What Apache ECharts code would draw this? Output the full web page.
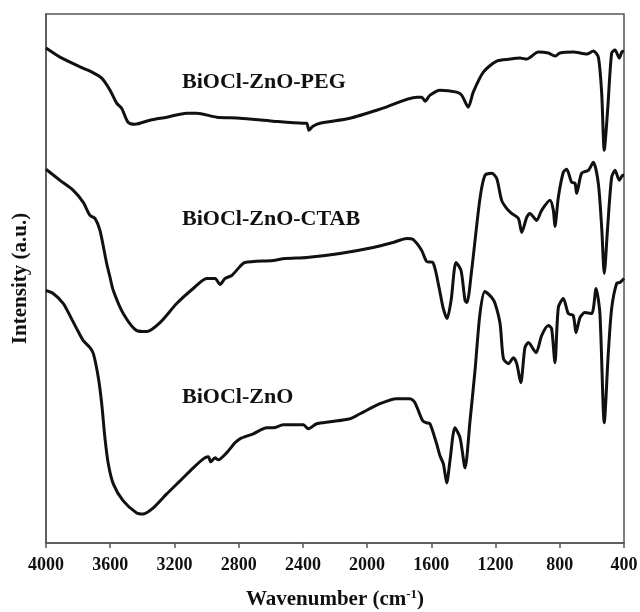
<!DOCTYPE html>
<html>
<head>
<meta charset="utf-8">
<title>FTIR spectra</title>
<script src="https://cdn.jsdelivr.net/npm/echarts@6/dist/echarts.min.js"></script>
<style>
  html, body { margin: 0; padding: 0; background: #fff; }
  #chart { width: 640px; height: 612px; }
</style>
</head>
<body>
<div id="chart"></div>
<script>
var xTicks = [4000, 3600, 3200, 2800, 2400, 2000, 1600, 1200, 800, 400];

// BiOCl-ZnO-PEG (top curve)
var pegWn = [4000, 3913, 3770, 3726, 3653, 3601, 3560, 3529, 3489, 3446, 3352, 3248, 3124, 3061, 2937, 2792, 2586, 2399, 2376, 2362, 2337, 2293, 2107, 1901, 1691, 1660, 1639, 1608, 1546, 1442, 1411, 1370, 1339, 1276, 1193, 1110, 1048, 1006, 934, 871, 830, 799, 716, 632, 591, 560, 539, 523, 502, 477, 456, 429, 414, 400];
var pegVal = [494, 485, 474, 471, 464, 452, 439, 434, 420, 418, 422, 425, 429, 429, 425, 424, 421, 419, 419, 412, 416, 419, 424, 434, 445, 445, 441, 447, 452, 450, 447, 435, 450, 470, 481, 483, 484, 483, 490, 489, 486, 489, 490, 488, 491, 485, 449, 392, 432, 489, 492, 484, 490, 491];

// BiOCl-ZnO-CTAB (middle curve)
var ctabWn = [4000, 3913, 3830, 3768, 3726, 3695, 3664, 3622, 3601, 3581, 3519, 3435, 3373, 3290, 3186, 3083, 2999, 2947, 2916, 2885, 2843, 2792, 2761, 2586, 2511, 2376, 2169, 1963, 1839, 1753, 1714, 1660, 1629, 1590, 1552, 1527, 1502, 1477, 1446, 1415, 1390, 1378, 1349, 1297, 1266, 1224, 1193, 1162, 1131, 1100, 1058, 1037, 1006, 986, 944, 913, 861, 840, 830, 809, 778, 757, 726, 705, 695, 664, 622, 591, 560, 539, 523, 502, 477, 456, 429, 408, 400];
var ctabVal = [373, 362, 352, 340, 327, 324, 312, 279, 265, 252, 229, 212, 211, 220, 239, 254, 264, 264, 258, 264, 267, 276, 280, 282, 284, 285, 289, 295, 300, 304, 303, 292, 281, 280, 255, 235, 224, 242, 280, 272, 242, 240, 272, 344, 367, 369, 364, 342, 334, 329, 324, 310, 325, 329, 322, 332, 342, 332, 316, 345, 370, 373, 360, 359, 349, 369, 372, 380, 359, 315, 269, 315, 365, 372, 362, 367, 367];

// BiOCl-ZnO (bottom curve)
var znoWn = [4000, 3955, 3892, 3851, 3809, 3768, 3726, 3705, 3674, 3653, 3633, 3612, 3581, 3519, 3435, 3394, 3332, 3248, 3165, 3083, 3020, 2989, 2974, 2947, 2927, 2875, 2823, 2792, 2709, 2625, 2584, 2522, 2397, 2366, 2314, 2231, 2107, 2044, 1920, 1816, 1733, 1702, 1654, 1629, 1608, 1567, 1546, 1525, 1504, 1484, 1453, 1421, 1390, 1359, 1328, 1297, 1266, 1224, 1203, 1172, 1151, 1120, 1089, 1068, 1043, 1017, 996, 948, 913, 871, 851, 830, 809, 778, 747, 716, 699, 674, 643, 601, 574, 550, 523, 498, 477, 446, 425, 400];
var znoVal = [252, 249, 239, 227, 214, 202, 195, 189, 165, 139, 105, 79, 59, 42, 30, 29, 35, 49, 62, 75, 84, 86, 81, 85, 83, 90, 100, 104, 109, 115, 115, 118, 118, 114, 119, 121, 124, 129, 139, 144, 144, 140, 122, 120, 119, 99, 87, 79, 60, 82, 115, 105, 75, 122, 172, 229, 251, 245, 239, 219, 184, 179, 185, 179, 160, 195, 200, 190, 207, 217, 214, 180, 235, 244, 229, 227, 210, 225, 230, 229, 254, 229, 120, 189, 234, 259, 260, 264];

var seriesNames = ['BiOCl-ZnO-PEG', 'BiOCl-ZnO-CTAB', 'BiOCl-ZnO'];

function pairs(wn, val) {
  return wn.map(function (w, i) { return [w, val[i]]; });
}

var serif = '"Liberation Serif", "Times New Roman", serif';

var myChart = echarts.init(document.getElementById('chart'), null, { renderer: 'canvas' });

function lineSeries(name, data) {
  return {
    name: name,
    type: 'line',
    data: data,
    showSymbol: false,
    smooth: 0.25,
    lineStyle: { color: '#111', width: 3 },
    animation: false
  };
}

var option = {
  backgroundColor: '#fff',
  grid: {
    left: 46,
    right: 16,
    top: 14,
    bottom: 69,
    outerBoundsMode: 'none',
    containLabel: false,
    show: true,
    borderColor: '#555',
    borderWidth: 1.5
  },
  xAxis: {
    type: 'value',
    inverse: true,
    min: 400,
    max: 4000,
    interval: 400,
    name: 'Wavenumber (cm{sup|-1})',
    nameLocation: 'middle',
    nameGap: 45,
    nameTextStyle: {
      fontFamily: serif,
      fontWeight: 'bold',
      fontSize: 21,
      color: '#111',
      rich: {
        sup: { fontFamily: serif, fontWeight: 'bold', fontSize: 13, verticalAlign: 'top', padding: [0, 0, 10, 0], color: '#111' }
      }
    },
    axisLine: { show: true, lineStyle: { color: '#555', width: 1.5 } },
    axisTick: { show: true, length: 5, lineStyle: { color: '#555', width: 1.5 } },
    axisLabel: {
      fontFamily: serif,
      fontWeight: 'bold',
      fontSize: 18,
      color: '#111',
      margin: 13,
      showMinLabel: true,
      showMaxLabel: true,
      formatter: function (v) { return xTicks.indexOf(v) >= 0 ? String(v) : ''; }
    },
    splitLine: { show: false }
  },
  yAxis: {
    type: 'value',
    min: 0,
    max: 528,
    name: 'Intensity (a.u.)',
    nameLocation: 'middle',
    nameGap: 15,
    nameTextStyle: { fontFamily: serif, fontWeight: 'bold', fontSize: 21, color: '#111' },
    axisLine: { show: true, lineStyle: { color: '#555', width: 1.5 } },
    axisTick: { show: false },
    axisLabel: { show: false },
    splitLine: { show: false }
  },
  graphic: [
    { type: 'text', left: 182, top: 71, style: { text: seriesNames[0], font: 'bold 22px ' + serif, fill: '#111' } },
    { type: 'text', left: 182, top: 208, style: { text: seriesNames[1], font: 'bold 22px ' + serif, fill: '#111' } },
    { type: 'text', left: 182, top: 386, style: { text: seriesNames[2], font: 'bold 22px ' + serif, fill: '#111' } }
  ],
  series: [
    lineSeries(seriesNames[0], pairs(pegWn, pegVal)),
    lineSeries(seriesNames[1], pairs(ctabWn, ctabVal)),
    lineSeries(seriesNames[2], pairs(znoWn, znoVal))
  ]
};

myChart.setOption(option);
</script>
</body>
</html>
